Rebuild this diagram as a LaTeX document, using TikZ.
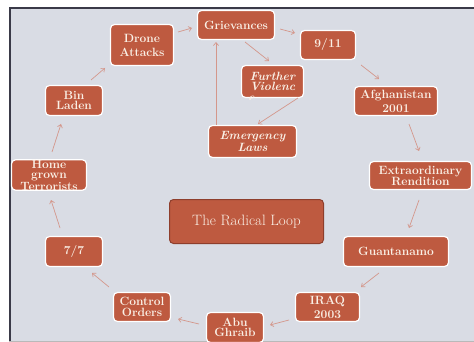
\documentclass[tikz,border=0pt]{standalone}
\usetikzlibrary{arrows.meta}
\definecolor{boxred}{HTML}{BE5A40}
\definecolor{slidebg}{HTML}{D9DCE4}
\definecolor{arrowc}{HTML}{D4978B}
\definecolor{cream}{HTML}{FAF0E6}
\definecolor{topline}{HTML}{3A3A48}
\definecolor{rlborder}{HTML}{8E3E2C}
\begin{document}
\begin{tikzpicture}[x=1pt,y=-1pt,
  box/.style={draw=white, line width=1.2pt, fill=boxred, rounded corners=4pt,
    text=cream, font=\bfseries\fontsize{12}{10.5}\selectfont, align=center, inner sep=0pt},
  wide/.style={font=\bfseries\fontsize{12}{14}\selectfont},
  ital/.style={font=\bfseries\itshape\fontsize{12}{10.5}\selectfont},
  txt/.style={text=cream, inner sep=0pt, font=\bfseries\itshape\fontsize{12}{10.5}\selectfont},
  arr/.style={draw=arrowc, line width=0.7pt, -{Straight Barb[length=3pt,width=5pt]}}]
\useasboundingbox (0,0) rectangle (474,342);
\fill[white] (0,0) rectangle (474,342);
\fill[slidebg] (9,8) rectangle (474,341);
\fill[topline] (9,7) rectangle (474,9.5);
\fill[topline] (9,7) rectangle (10.5,341);
\fill[gray!55] (9,340.8) rectangle (474,342);

% nodes
\node[box, minimum width=77pt, minimum height=29pt] (g) at (236,25) {Grievances};
\node[box, minimum width=55pt, minimum height=29pt] (n911) at (328,45) {9/11};
\node[box, ital, align=left, minimum width=62pt, minimum height=32pt] (fv) at (272.5,81.5) {Further\\Violenc};
\node[box, ital, minimum width=88pt, minimum height=32pt] (el) at (252.5,141.5) {Emergency\\Laws};
\node[box, wide, minimum width=63pt, minimum height=41pt] (da) at (142,45) {Drone\\Attacks};
\node[box, minimum width=57pt, minimum height=30pt] (bl) at (74,100.5) {Bin\\Laden};
\node[box, font=\bfseries\fontsize{12}{10.5}\selectfont, minimum width=75pt, minimum height=29pt] (hg) at (49,175) {Home\\grown\\Terrorists};
\node[box, minimum width=57pt, minimum height=30pt] (s77) at (74,251.5) {7/7};
\node[box, minimum width=57pt, minimum height=29pt] (co) at (142,307) {Control\\Orders};
\node[box, minimum width=57pt, minimum height=30pt] (ag) at (235,327.5) {Abu\\Ghraib};
\node[box, wide, minimum width=64pt, minimum height=29pt] (iq) at (327.5,307) {IRAQ\\2003};
\node[box, minimum width=105pt, minimum height=30pt] (gu) at (396,251.5) {Guantanamo};
\node[box, font=\bfseries\fontsize{12}{11}\selectfont, minimum width=102pt, minimum height=28pt] (er) at (420.5,175.5) {Extraordinary\\Rendition};
\node[box, wide, minimum width=83pt, minimum height=29pt] (af) at (396,101) {Afghanistan\\2001};
\node[box, draw=rlborder, line width=1pt, font=\fontsize{15}{17}\selectfont, minimum width=154pt, minimum height=44pt] (rl) at (246.5,221.5) {The Radical Loop};

\begin{scope}
\clip ([yshift=-1.5pt]fv.south west) rectangle (fv.north east);
\node[txt, anchor=base west] (fve) at ([shift={(-24.5,20.5)}]fv.center) {e};
\end{scope}

% connectors
\draw[arr] ([shift={(36,-13)}]da.center) -- ([shift={(-44,3)}]g.center);
\draw[arr] ([shift={(44,4)}]g.center) -- ([shift={(-33,-12)}]n911.center);
\draw[arr] ([shift={(9,17)}]g.center) -- ([shift={(-3.5,-20.5)}]fv.center);
\draw[arr] ([shift={(25.5,16.5)}]fv.center) -- ([shift={(5.5,-17.5)}]el.center);
\draw[arr] ([shift={(-36.5,-16.5)}]el.center) -- ([shift={(-20,17)}]g.center);
\draw[arr] ([shift={(33,20)}]n911.center) -- ([shift={(-17,-22)}]af.center);
\draw[arr] ([shift={(13,23)}]af.center) -- ([shift={(-1.5,-24.5)}]er.center);
\draw[arr] ([shift={(-1.5,24.5)}]er.center) -- ([shift={(13,-23.5)}]gu.center);
\draw[arr] ([shift={(-17,21.5)}]gu.center) -- ([shift={(33.5,-20)}]iq.center);
\draw[arr] ([shift={(-38.5,13)}]iq.center) -- ([shift={(35,-2.5)}]ag.center);
\draw[arr] ([shift={(-36,-3.5)}]ag.center) -- ([shift={(36,12)}]co.center);
\draw[arr] ([shift={(-33,-20)}]co.center) -- ([shift={(18,21.5)}]s77.center);
\draw[arr] ([shift={(-14,-23.5)}]s77.center) -- ([shift={(2,25)}]hg.center);
\draw[arr] ([shift={(3,-23)}]hg.center) -- ([shift={(-13,23.5)}]bl.center);
\draw[arr] ([shift={(17,-20.5)}]bl.center) -- ([shift={(-37,23)}]da.center);
\end{tikzpicture}
\end{document}
